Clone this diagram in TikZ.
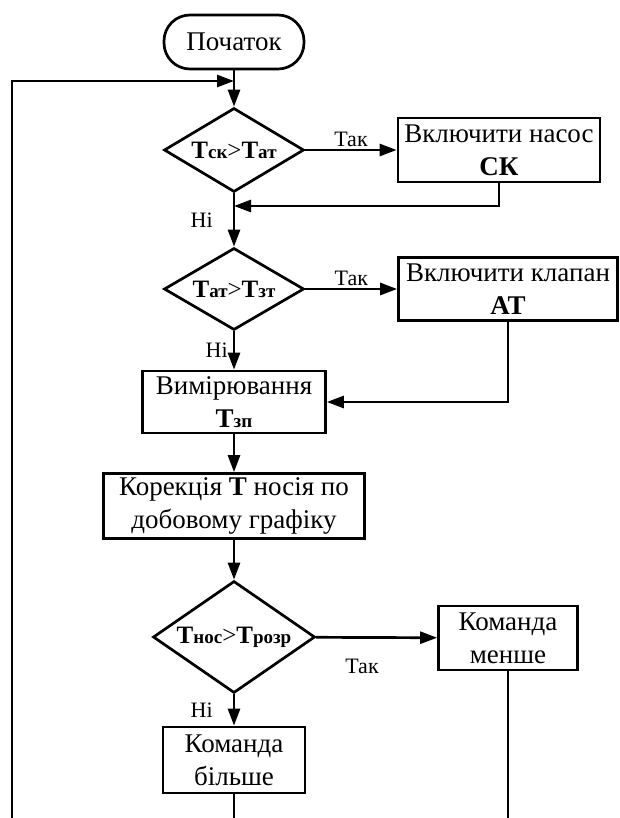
\documentclass[tikz,border=0pt]{standalone}
\usepackage{fontspec}
\setmainfont{Liberation Serif}
\usetikzlibrary{positioning,shapes.geometric,arrows.meta}

\tikzset{
  line/.style={line width=2.7pt},
  arrow/.style={line, -{Triangle[length=17pt,width=12pt]}},
  block/.style={draw, line, rectangle, align=center, inner sep=2pt, font=\fontsize{27}{33}\selectfont},
  terminal/.style={block, rounded corners=26pt},
  decision/.style={draw, line, diamond, inner sep=0pt, aspect=1.6, font=\fontsize{25}{28}\selectfont},
  lbl/.style={font=\fontsize{22}{24}\selectfont, inner sep=2pt}
}

\begin{document}
\begin{tikzpicture}[x=1pt,y=-1pt]

\useasboundingbox (0,0) rectangle (620,818);

\newcommand{\tsub}[1]{{\bfseries Т\fontsize{19}{20}\selectfont #1}}

% blocks
\node[terminal, minimum width=140pt, minimum height=54pt] (start) at (234,42) {Початок};
\node[decision, minimum width=140pt, minimum height=84pt] (cond1) at (234,150) {\tsub{ск}>\tsub{ат}};
\node[block, minimum width=202pt, minimum height=64pt] (pump) at (499,150) {Включити насос\\\textbf{СК}};
\node[decision, minimum width=140pt, minimum height=82pt] (cond2) at (234,289) {\tsub{ат}>\tsub{зт}};
\node[block, minimum width=219pt, minimum height=63pt] (valve) at (508,289) {Включити клапан\\\textbf{АТ}};
\node[block, minimum width=183pt, minimum height=62pt] (meas) at (234,402) {Вимірювання\\\tsub{зп}};
\node[block, minimum width=261pt, minimum height=65pt] (corr) at (234,506) {Корекція \textbf{Т} носія по\\добовому графіку};
\node[decision, aspect=1.45, minimum width=162pt, minimum height=112pt] (cond3) at (234,637) {\tsub{нос}>\tsub{розр}};
\node[block, minimum width=139pt, minimum height=64pt] (less) at (508,638) {Команда\\менше};
\node[block, minimum width=142pt, minimum height=66pt] (more) at (234,760) {Команда\\більше};

\coordinate (loopin) at (234,81);
\coordinate (loopend) at (12,818);
\coordinate (join1) at (234,206);
\coordinate (morebot) at (234,818);
\coordinate (lessbot) at (508,818);

% connectors
\draw[arrow] (start) -- (cond1);
\draw[arrow] (loopend) |- (loopin);
\draw[arrow] (cond1) -- node[lbl, above]{Так} (pump);
\draw[arrow] (pump.south) |- (join1);
\draw[arrow] (cond1) -- node[lbl, left=18pt]{Ні} (cond2);
\draw[arrow] (cond2) -- node[lbl, above]{Так} (valve);
\draw[arrow] (cond2) -- node[lbl, left=3pt]{Ні} (meas);
\draw[arrow] (valve.south) |- (meas.east);
\draw[arrow] (meas) -- (corr);
\draw[arrow] (corr) -- (cond3);
\draw[arrow] (cond3) -- node[lbl, below=18pt, pos=0.38]{Так} (less);
\draw[arrow] (cond3) -- node[lbl, left=18pt]{Ні} (more);
\draw[line] (more) -- (morebot);
\draw[line] (less) -- (lessbot);

\end{tikzpicture}
\end{document}
